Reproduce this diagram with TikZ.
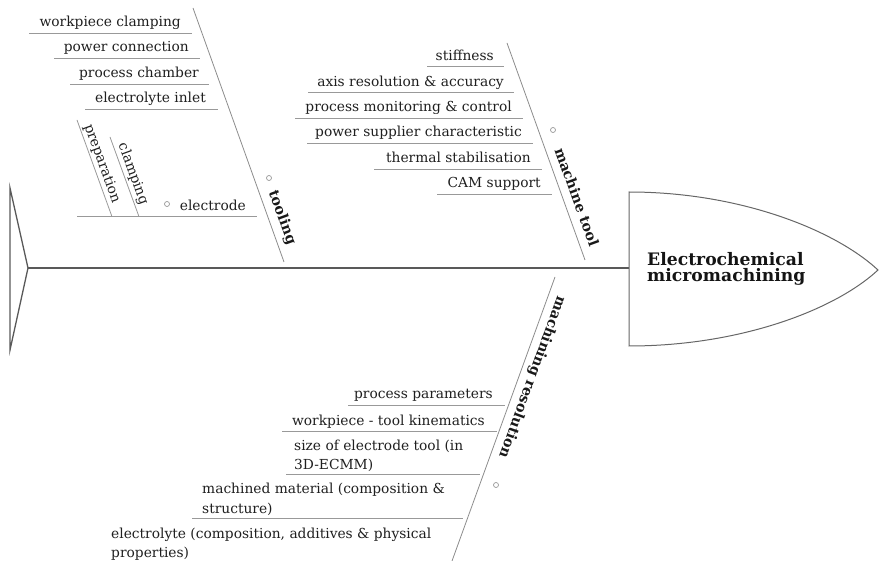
\documentclass[tikz,border=0pt]{standalone}
\usepackage{fontspec}
\setmainfont{DejaVu Serif}
\begin{document}
\begin{tikzpicture}[x=1pt,y=-1pt,
  bone/.style={draw=black!45, line width=0.8pt},
  twig/.style={draw=black!40, line width=0.8pt},
  spine/.style={draw=black!65, line width=1.3pt},
  lbl/.style={font=\fontsize{13.8}{19.5}\selectfont, text=black!88, inner sep=0pt},
  cat/.style={font=\fontsize{14.2}{17}\selectfont\bfseries, text=black!90, inner sep=0pt},
  headtxt/.style={font=\fontsize{17.2}{16}\selectfont\bfseries, text=black!92, inner sep=0pt, anchor=base west},
  dot/.style={circle, draw=black!40, line width=0.7pt, fill=white, minimum size=5pt, inner sep=0pt},
  rl/.style={lbl, anchor=base east},
  ml/.style={lbl, anchor=base west}
]
\useasboundingbox (0,0) rectangle (879,561);

% ---- spine, tail, head
\coordinate (tailTop) at (10,188);
\coordinate (tailBot) at (10,350);
\coordinate (tailTip) at (28,268);
\coordinate (headL) at (629,268);
\draw[spine, line join=miter] (tailTop) -- (tailTip) -- (tailBot) -- cycle;
\draw[spine] (tailTip) -- (headL);
\coordinate (hTop) at (629,192);
\coordinate (hBot) at (629,346);
\coordinate (hTip) at (878,270);
\draw[draw=black!60, line width=1pt] (hTop) .. controls (740,192) and (835,230) .. (hTip)
   .. controls (835,310) and (740,346) .. (hBot) -- cycle;
\node[headtxt] (head) at (647,266) {\begin{tabular}[t]{@{}l@{}}Electrochemical\\[-2pt]micromachining\end{tabular}};

% ---- tooling
\coordinate (tT) at (193,8);
\coordinate (tB) at (284,262);
\draw[bone] (tT) -- (tB);
\node[dot] (tdot) at (269,178) {};
\node[cat, rotate=-70] (tooling) at (282,218) {tooling};

\coordinate (a1) at (29,33.3);  \coordinate (b1) at (192,33.3);
\coordinate (a2) at (54,58.3);  \coordinate (b2) at (200,58.3);
\coordinate (a3) at (70,84);    \coordinate (b3) at (209,84);
\coordinate (a4) at (85,109);   \coordinate (b4) at (218,109);
\foreach \i in {1,...,4} \draw[twig] (a\i) -- (b\i);
\node[rl] (wc) at (181,27) {workpiece clamping};
\node[rl] (pc) at (189,52) {power connection};
\node[rl] (ch) at (199,78) {process chamber};
\node[rl] (ei) at (206,103) {electrolyte inlet};

\coordinate (eA) at (77,216.7); \coordinate (eB) at (257,216.7);
\draw[twig] (eA) -- (eB);
\node[rl] (el) at (246,210.5) {electrode};
\node[dot] (edot) at (167,204) {};
\coordinate (pA) at (77,120);  \coordinate (pB) at (112,216.7);
\coordinate (cA) at (110,137); \coordinate (cB) at (139,216.7);
\draw[twig] (pA) -- (pB);
\draw[twig] (cA) -- (cB);
\node[lbl, rotate=-70] (prep) at (102,164) {preparation};
\node[lbl, rotate=-70] (clamp) at (133,174) {clamping};

% ---- machine tool
\coordinate (mT) at (507,43);
\coordinate (mB) at (585,260);
\draw[bone] (mT) -- (mB);
\node[dot] (mdot) at (553,130) {};
\node[cat, rotate=-70] (mtool) at (577,197) {machine tool};

\coordinate (c1) at (427,66.7);  \coordinate (d1) at (504,66.7);
\coordinate (c2) at (308,92.3);  \coordinate (d2) at (514,92.3);
\coordinate (c3) at (295,118);   \coordinate (d3) at (523,118);
\coordinate (c4) at (307,143);   \coordinate (d4) at (533,143);
\coordinate (c5) at (374,169);   \coordinate (d5) at (542,169);
\coordinate (c6) at (437,194);   \coordinate (d6) at (552,194);
\foreach \i in {1,...,6} \draw[twig] (c\i) -- (d\i);
\node[rl] (st) at (494,61) {stiffness};
\node[rl] (ax) at (504,86.5) {axis resolution \& accuracy};
\node[rl] (pm) at (512,112) {process monitoring \& control};
\node[rl] (ps) at (522,137) {power supplier characteristic};
\node[rl] (ts) at (531,163) {thermal stabilisation};
\node[rl] (cam) at (541,188) {CAM support};

% ---- machining resolution
\coordinate (rT) at (555,277);
\coordinate (rB) at (452,561);
\draw[bone] (rT) -- (rB);
\node[dot] (rdot) at (496,485) {};
\node[cat, rotate=-110] (mres) at (532,377) {machining resolution};

\coordinate (e1) at (348,405);   \coordinate (f1) at (505,405);
\coordinate (e2) at (282,431.7); \coordinate (f2) at (497,431.7);
\coordinate (e3) at (286,474);   \coordinate (f3) at (480,474);
\coordinate (e4) at (192,518);   \coordinate (f4) at (463,518);
\foreach \i in {1,...,4} \draw[twig] (e\i) -- (f\i);
\node[rl] (pp) at (493,399) {process parameters};
\node[rl] (wk) at (485,426) {workpiece - tool kinematics};
\node[ml] (se) at (294,450) {\begin{tabular}[t]{@{}l@{}}size of electrode tool (in\\3D-ECMM)\end{tabular}};
\node[ml] (mm) at (202,493.5) {\begin{tabular}[t]{@{}l@{}}machined material (composition \&\\structure)\end{tabular}};
\node[ml] (ey) at (111,538) {\begin{tabular}[t]{@{}l@{}}electrolyte (composition, additives \& physical\\properties)\end{tabular}};
\end{tikzpicture}
\end{document}
